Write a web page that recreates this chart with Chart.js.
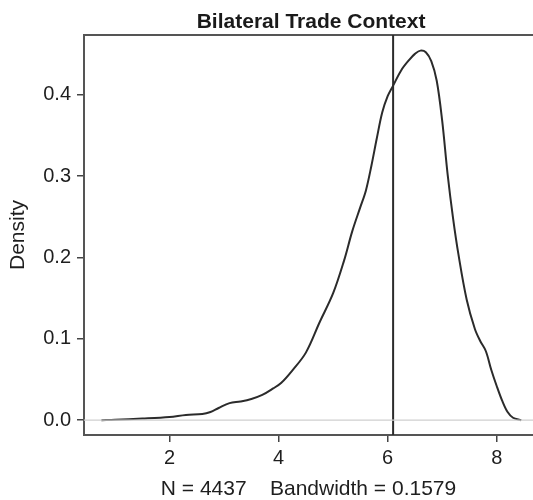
<!DOCTYPE html>
<html>
<head>
<meta charset="utf-8">
<script src="https://cdn.jsdelivr.net/npm/chart.js@4"></script>
<style>
  html, body { margin: 0; padding: 0; background: #fff; }
  #wrap { width: 533px; height: 500px; }
</style>
</head>
<body>
<div id="wrap"><canvas id="c"></canvas></div>
<script>
// Estimated density curve
const densityX = [0.75, 1.0, 1.5, 2.0, 2.3, 2.6, 2.75, 2.9, 3.1, 3.3, 3.5, 3.7, 3.9, 4.05,
  4.25, 4.5, 4.75, 5.0, 5.2, 5.35, 5.5, 5.6, 5.7, 5.8, 5.9, 6.0, 6.1, 6.25, 6.4, 6.5,
  6.6, 6.7, 6.8, 6.9, 7.0, 7.1, 7.2, 7.3, 7.45, 7.6, 7.7, 7.8, 7.9, 8.0, 8.1, 8.2, 8.3, 8.45];
const densityY = [0, 0.0005, 0.002, 0.004, 0.0065, 0.0075, 0.010, 0.015, 0.021, 0.023, 0.026,
  0.031, 0.039, 0.046, 0.061, 0.083, 0.120, 0.156, 0.196, 0.232, 0.262, 0.282, 0.312, 0.346,
  0.378, 0.398, 0.411, 0.430, 0.443, 0.450, 0.454, 0.452, 0.441, 0.417, 0.368, 0.302, 0.248,
  0.203, 0.148, 0.112, 0.097, 0.085, 0.062, 0.042, 0.024, 0.010, 0.003, 0];

const xTicks = [2, 4, 6, 8];
const yTicks = [0, 0.1, 0.2, 0.3, 0.4];
const refLineX = 6.1;

// plot limits (R style: range extended by 4 %)
const X_MIN = 0.43, X_MAX = 8.666, X_BOX_RIGHT = 8.76;
const Y_MIN = -0.0182, Y_MAX = 0.4732;

const FONT = "'Liberation Sans', Arial, Helvetica, sans-serif";
const INK = "#2b2b2b";

// Title centred over the whole (partly cropped) plot box
const titlePlugin = {
  id: "boxTitle",
  afterDraw(chart) {
    const { ctx, chartArea, scales } = chart;
    const right = scales.x.getPixelForValue(X_BOX_RIGHT);
    ctx.save();
    ctx.font = "bold 21px " + FONT;
    ctx.fillStyle = "#1a1a1a";
    ctx.textAlign = "center";
    ctx.textBaseline = "middle";
    ctx.fillText("Bilateral Trade Context", (chartArea.left + right) / 2, 22);
    ctx.restore();
  }
};

new Chart(document.getElementById("c"), {
  type: "scatter",
  data: {
    datasets: [
      {
        // horizontal reference at zero
        data: [{ x: X_MIN, y: 0 }, { x: X_MAX, y: 0 }],
        showLine: true,
        borderColor: "#cfcfcf",
        borderWidth: 1.2,
        pointRadius: 0
      },
      {
        data: densityX.map((x, i) => ({ x, y: densityY[i] })),
        showLine: true,
        borderColor: INK,
        borderWidth: 2,
        pointRadius: 0,
        tension: 0.35
      },
      {
        data: [{ x: refLineX, y: Y_MIN }, { x: refLineX, y: Y_MAX }],
        showLine: true,
        borderColor: INK,
        borderWidth: 2,
        pointRadius: 0
      }
    ]
  },
  options: {
    responsive: true,
    maintainAspectRatio: false,
    animation: false,
    layout: { padding: 0 },
    plugins: { legend: { display: false }, tooltip: { enabled: false }, title: { display: false } },
    scales: {
      x: {
        type: "linear",
        min: X_MIN, max: X_MAX,
        afterBuildTicks: s => { s.ticks = xTicks.map(v => ({ value: v })); },
        afterFit: s => { s.height = 65; },
        grid: { display: true, drawOnChartArea: false, drawTicks: true, tickLength: 7, color: "#444", lineWidth: 1.5 },
        border: { display: true, color: "#555", width: 2 },
        ticks: { color: "#1e1e1e", font: { family: FONT, size: 20 }, padding: 4, maxRotation: 0 },
        title: {
          display: true,
          text: "N = 4437    Bandwidth = 0.1579",
          color: "#1e1e1e",
          font: { family: FONT, size: 21, lineHeight: 1 },
          padding: { top: 0, bottom: 0 }
        }
      },
      x2: {
        type: "linear",
        position: "top",
        min: X_MIN, max: X_MAX,
        afterFit: s => { s.height = 35; },
        grid: { display: false },
        border: { display: true, color: "#555", width: 2 },
        ticks: { display: false }
      },
      y: {
        min: Y_MIN, max: Y_MAX,
        afterBuildTicks: s => { s.ticks = yTicks.map(v => ({ value: v })); },
        afterFit: s => { s.width = 84; },
        grid: { display: true, drawOnChartArea: false, drawTicks: true, tickLength: 7, color: "#444", lineWidth: 1.5 },
        border: { display: true, color: "#555", width: 2 },
        ticks: {
          color: "#1e1e1e",
          font: { family: FONT, size: 20 },
          padding: 6,
          callback: v => v.toFixed(1)
        },
        title: {
          display: true,
          text: "Density",
          color: "#1e1e1e",
          font: { family: FONT, size: 21, lineHeight: 1 },
          padding: { top: 8, bottom: 0 }
        }
      }
    }
  },
  plugins: [titlePlugin]
});
</script>
</body>
</html>
